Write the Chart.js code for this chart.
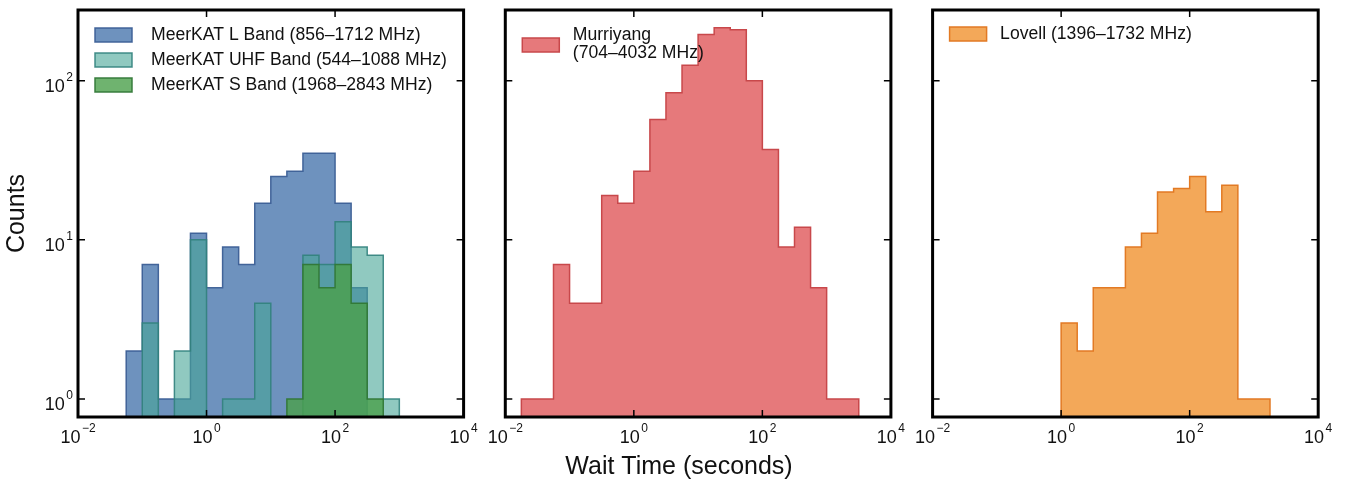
<!DOCTYPE html>
<html>
<head>
<meta charset="utf-8">
<script src="https://cdn.jsdelivr.net/npm/chart.js@4.4.1/dist/chart.umd.min.js"></script>
<style>
  html, body { margin: 0; padding: 0; background: #fff; }
  #wrap { position: relative; width: 1347px; height: 484px; }
  #wrap canvas { position: absolute; left: 0; top: 0; }
</style>
</head>
<body>
<div id="wrap">
  <canvas id="p1" width="1347" height="484"></canvas>
  <canvas id="p2" width="1347" height="484"></canvas>
  <canvas id="p3" width="1347" height="484"></canvas>
</div>
<script>
// bin edges in decades (log10 of wait time in s), shared by all panels
const binEdgesLog = [-1.75, -1.5, -1.25, -1, -0.75, -0.5, -0.25, 0, 0.25, 0.5, 0.75,
  1, 1.25, 1.5, 1.75, 2, 2.25, 2.5, 2.75, 3, 3.25, 3.5];

// counts per bin
const lBandCounts = [0, 0, 2, 7, 1, 1, 11, 5, 9, 7, 17, 25, 27, 35, 35, 17, 5, 0, 0, 0, 0];
const uhfBandCounts = [0, 0, 0, 3, 0, 2, 10, 0, 1, 1, 4, 0, 0, 8, 7, 13, 9, 8, 1, 0, 0];
const sBandCounts = [0, 0, 0, 0, 0, 0, 0, 0, 0, 0, 0, 0, 1, 7, 5, 7, 4, 1, 0, 0, 0];
const murriyangCounts = [1, 1, 7, 4, 4, 19, 17, 27, 57, 84, 125, 195, 215, 209, 100, 37, 9, 12, 5, 1, 1];
const lovellCounts = [0, 0, 0, 0, 0, 0, 0, 3, 2, 5, 5, 9, 11, 20, 21, 25, 15, 22, 1, 1, 0];

// axis ticks (exponents of 10)
const xTickExps = [-2, 0, 2, 4];
const yTickExps = [0, 1, 2];

const FONT = '"Liberation Sans", Arial, Helvetica, sans-serif';
const FLOOR = 0.1; // below the y axis, used for empty bins
const Y_MIN = 0.7706, Y_MAX = 278;

function stepPoints(counts) {
  const pts = [{ x: 10 ** binEdgesLog[0], y: FLOOR }];
  counts.forEach((c, i) => pts.push({ x: 10 ** binEdgesLog[i], y: c > 0 ? c : FLOOR }));
  pts.push({ x: 10 ** binEdgesLog[counts.length], y: FLOOR });
  return pts;
}

function powLabel(ctx, exp, x, y, align) {
  const base = '10';
  const sup = exp < 0 ? '\u2212' + (-exp) : String(exp);
  ctx.font = '18px ' + FONT;
  const wb = ctx.measureText(base).width;
  ctx.font = '12px ' + FONT;
  const ws = ctx.measureText(sup).width;
  const total = wb + 1.5 + ws;
  const x0 = align === 'center' ? x - total / 2 : x - total;
  ctx.textAlign = 'left';
  ctx.textBaseline = 'alphabetic';
  ctx.font = '18px ' + FONT;
  ctx.fillText(base, x0, y);
  ctx.font = '12px ' + FONT;
  ctx.fillText(sup, x0 + wb + 1.5, y - 11.5);
}

const framePlugin = {
  id: 'frame',
  afterDraw(chart) {
    const { ctx, chartArea: a, scales } = chart;
    const cfg = chart.options.plugins.frame;
    ctx.save();
    ctx.strokeStyle = '#000';
    ctx.fillStyle = '#111';
    // inward ticks on all four sides
    ctx.lineWidth = 1.5;
    ctx.beginPath();
    xTickExps.forEach(e => {
      const px = scales.x.getPixelForValue(10 ** e);
      ctx.moveTo(px, a.bottom); ctx.lineTo(px, a.bottom - 7);
      ctx.moveTo(px, a.top); ctx.lineTo(px, a.top + 7);
    });
    yTickExps.forEach(e => {
      const py = scales.y.getPixelForValue(10 ** e);
      ctx.moveTo(a.left, py); ctx.lineTo(a.left + 7, py);
      ctx.moveTo(a.right, py); ctx.lineTo(a.right - 7, py);
    });
    ctx.stroke();
    // frame
    ctx.lineWidth = 3;
    ctx.strokeRect(a.left, a.top, a.right - a.left, a.bottom - a.top);
    // tick labels
    xTickExps.forEach(e => powLabel(ctx, e, scales.x.getPixelForValue(10 ** e), a.bottom + 26, 'center'));
    if (cfg.yLabels) {
      yTickExps.forEach(e => powLabel(ctx, e, a.left - 5, scales.y.getPixelForValue(10 ** e) + 11.5, 'right'));
    }
    // legend
    cfg.legend.forEach((item, i) => {
      const px = a.left + 17, py = a.top + item.patchY;
      ctx.fillStyle = item.fill;
      ctx.fillRect(px, py, 37, 14);
      ctx.strokeStyle = item.edge;
      ctx.lineWidth = 1.5;
      ctx.strokeRect(px, py, 37, 14);
      ctx.fillStyle = '#111';
      ctx.font = '17.6px ' + FONT;
      ctx.textAlign = 'left';
      ctx.textBaseline = 'middle';
      item.lines.forEach((t, j) => ctx.fillText(t, a.left + cfg.textDx, a.top + item.textY + j * 18.5));
    });
    // axis titles
    ctx.font = '25px ' + FONT;
    ctx.textAlign = 'center';
    ctx.textBaseline = 'middle';
    if (cfg.yTitle) {
      ctx.save();
      ctx.translate(17, (a.top + a.bottom) / 2);
      ctx.rotate(-Math.PI / 2);
      ctx.fillText(cfg.yTitle, 0, 0);
      ctx.restore();
    }
    if (cfg.xTitle) ctx.fillText(cfg.xTitle, 679, 467);
    ctx.restore();
  }
};

function histSet(counts, fill, edge, order) {
  return {
    data: stepPoints(counts),
    backgroundColor: fill,
    borderColor: edge,
    borderWidth: 1.5,
    fill: 'start',
    stepped: 'before',
    pointRadius: 0,
    tension: 0,
    order: order
  };
}

function makePanel(id, left, datasets, frame) {
  new Chart(document.getElementById(id), {
    type: 'line',
    data: { datasets: datasets },
    options: {
      responsive: false,
      animation: false,
      devicePixelRatio: 1,
      events: [],
      layout: { padding: { left: left, right: 1347 - left - 385.6, top: 10, bottom: 67 } },
      plugins: { legend: { display: false }, tooltip: { enabled: false }, frame: frame },
      scales: {
        x: { type: 'logarithmic', min: 0.01, max: 10000, display: false },
        y: { type: 'logarithmic', min: Y_MIN, max: Y_MAX, display: false }
      }
    },
    plugins: [framePlugin]
  });
}

const colL = ['rgba(61,110,168,0.75)', 'rgba(60,95,150,0.95)'];
const colU = ['rgba(70,165,150,0.6)', 'rgba(50,130,125,0.9)'];
const colS = ['rgba(75,160,75,0.8)', 'rgba(50,120,55,0.95)'];
const colM = ['rgba(228,110,112,0.92)', 'rgba(200,72,75,1)'];
const colV = ['rgba(242,163,80,0.95)', 'rgba(226,122,36,1)'];

makePanel('p1', 78, [
  histSet(lBandCounts, colL[0], colL[1], 3),
  histSet(uhfBandCounts, colU[0], colU[1], 2),
  histSet(sBandCounts, colS[0], colS[1], 1)
], {
  yLabels: true, yTitle: 'Counts', textDx: 73,
  legend: [
    { fill: colL[0], edge: colL[1], patchY: 18, textY: 25, lines: ['MeerKAT L Band (856\u20131712 MHz)'] },
    { fill: colU[0], edge: colU[1], patchY: 43, textY: 50, lines: ['MeerKAT UHF Band (544\u20131088 MHz)'] },
    { fill: colS[0], edge: colS[1], patchY: 68, textY: 75, lines: ['MeerKAT S Band (1968\u20132843 MHz)'] }
  ]
});

makePanel('p2', 505.3, [histSet(murriyangCounts, colM[0], colM[1], 1)], {
  yLabels: false, xTitle: 'Wait Time (seconds)', textDx: 67.5,
  legend: [
    { fill: colM[0], edge: colM[1], patchY: 28, textY: 25, lines: ['Murriyang', '(704\u20134032 MHz)'] }
  ]
});

makePanel('p3', 932.6, [histSet(lovellCounts, colV[0], colV[1], 1)], {
  yLabels: false, textDx: 67.5,
  legend: [
    { fill: colV[0], edge: colV[1], patchY: 17, textY: 24, lines: ['Lovell (1396\u20131732 MHz)'] }
  ]
});
</script>
</body>
</html>
